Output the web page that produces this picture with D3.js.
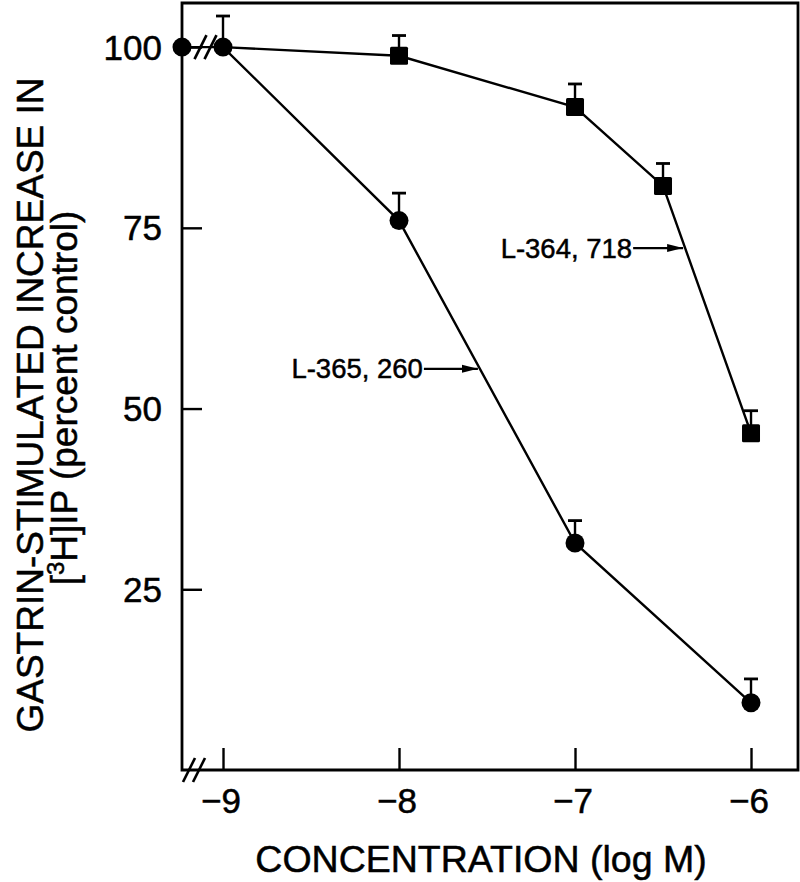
<!DOCTYPE html>
<html>
<head>
<meta charset="utf-8">
<script src="https://cdn.jsdelivr.net/npm/d3@7"></script>
<style>
  html, body { margin: 0; padding: 0; background: #fff; }
  svg { display: block; }
  text { font-family: "Liberation Sans", Arial, Helvetica, sans-serif; fill: #000; stroke: #000; stroke-width: 0.5px; }
</style>
</head>
<body>
<svg id="chart" width="800" height="882"></svg>
<script>
// ---------------- data ----------------
const xTicks = [-9, -8, -7, -6];
const xTickLabels = ["\u22129", "\u22128", "\u22127", "\u22126"];
const yTicks = [25, 50, 75, 100];
const yTickLabels = ["25", "50", "75", "100"];

// "control" point drawn on the broken axis, then log M concentrations
const circleX = ["control", -9, -8, -7, -6];
const circleY = [100, 100, 76.0, 31.4, 9.3];
const circleErr = [0, 4.3, 3.8, 3.1, 3.3];

const squareX = [-9, -8, -7, -6.5, -6];
const squareY = [100, 98.8, 91.7, 80.8, 46.6];
const squareErr = [0, 2.8, 3.2, 3.1, 3.1];
const squareErrShow = [false, true, true, true, true];

const seriesNames = ["L-365, 260", "L-364, 718"];
const annotationY = [55.5, 72.2];   // y value where each label's arrow meets its curve

const xTitle = "CONCENTRATION (log M)";
const yTitle1 = "GASTRIN-STIMULATED INCREASE IN";

// ---------------- layout ----------------
const svg = d3.select("#chart");
const mLeft = 182, mRight = 798, mTop = 3, mBottom = 770;
const xDomainMin = -9.233, xDomainMax = -5.733;
const x = d3.scaleLinear().domain([xDomainMin, xDomainMax]).range([mLeft, mRight]);
const y = d3.scaleLinear().domain([0, 106.1]).range([mBottom, mTop]);
const xPos = v => v === "control" ? x(xDomainMin) : x(v);

const g = svg.append("g");

// frame: left axis, bottom axis, top, right
g.append("path")
  .attr("d", `M${mLeft},${mBottom} L${mLeft},${mTop} L${mRight},${mTop} L${mRight},${mBottom} Z`)
  .attr("fill", "none").attr("stroke", "#000").attr("stroke-width", 2.8);

// y axis (inward ticks)
const yAxis = d3.axisRight(y).tickValues(yTicks).tickSize(20).tickFormat("");
const ya = g.append("g").attr("transform", `translate(${mLeft},0)`).call(yAxis);
ya.select(".domain").remove();
ya.selectAll(".tick line").attr("stroke-width", 2.4);
g.selectAll(".ylab").data(yTicks).enter().append("text")
  .attr("class", "ylab")
  .attr("x", 162).attr("y", d => y(d))
  .attr("text-anchor", "end").attr("dominant-baseline", "central")
  .style("font-size", "35px")
  .text((d, i) => yTickLabels[i]);

// x axis (inward ticks)
const xAxis = d3.axisTop(x).tickValues(xTicks).tickSize(22).tickFormat("");
const xa = g.append("g").attr("transform", `translate(0,${mBottom})`).call(xAxis);
xa.select(".domain").remove();
xa.selectAll(".tick line").attr("stroke-width", 2.4);
g.selectAll(".xlab").data(xTicks).enter().append("text")
  .attr("class", "xlab")
  .attr("x", d => x(d) - 2).attr("y", 813)
  .attr("text-anchor", "middle")
  .style("font-size", "35px")
  .text((d, i) => xTickLabels[i]);

// axis titles
g.append("text").attr("x", 481).attr("y", 872).attr("text-anchor", "middle")
  .style("font-size", "37.5px").text(xTitle);

const yt = g.append("text")
  .attr("transform", "translate(43,405) rotate(-90)")
  .attr("text-anchor", "middle").style("font-size", "37px");
yt.text(yTitle1);

const yt2 = g.append("text")
  .attr("transform", "translate(77,398) rotate(-90)")
  .attr("text-anchor", "middle").style("font-size", "37px");
yt2.append("tspan").text("[");
yt2.append("tspan").attr("dy", -13).style("font-size", "24px").text("3");
yt2.append("tspan").attr("dy", 13).text("H]IP (percent control)");

// ---------------- series ----------------
const line = d3.line().x(d => xPos(d[0])).y(d => y(d[1]));
const circPts = circleX.map((v, i) => [v, circleY[i], circleErr[i]]);
const sqPts = squareX.map((v, i) => [v, squareY[i], squareErr[i], squareErrShow[i]]);

g.append("path").datum(circPts).attr("d", line)
  .attr("fill", "none").attr("stroke", "#000").attr("stroke-width", 2.4);
g.append("path").datum(sqPts).attr("d", line)
  .attr("fill", "none").attr("stroke", "#000").attr("stroke-width", 2.4);

// error bars (upward only, with caps)
function errBars(pts, filter) {
  const sel = g.selectAll(null).data(pts.filter(filter)).enter().append("g");
  sel.append("line")
    .attr("x1", d => xPos(d[0])).attr("x2", d => xPos(d[0]))
    .attr("y1", d => y(d[1])).attr("y2", d => y(d[1] + d[2]))
    .attr("stroke", "#000").attr("stroke-width", 2.4);
  sel.append("line")
    .attr("x1", d => xPos(d[0]) - 7).attr("x2", d => xPos(d[0]) + 7)
    .attr("y1", d => y(d[1] + d[2])).attr("y2", d => y(d[1] + d[2]))
    .attr("stroke", "#000").attr("stroke-width", 2.8);
}
errBars(circPts, d => d[2] > 0);
errBars(sqPts, d => d[3]);

// markers
g.selectAll(".circ").data(circPts).enter().append("circle")
  .attr("cx", d => xPos(d[0])).attr("cy", d => y(d[1])).attr("r", 9.5).attr("fill", "#000");
g.selectAll(".sq").data(sqPts.filter(d => d[0] !== -9)).enter().append("rect")
  .attr("x", d => xPos(d[0]) - 9).attr("y", d => y(d[1]) - 9)
  .attr("width", 18).attr("height", 18).attr("rx", 1.5).attr("fill", "#000");

// ---------------- axis breaks ----------------
function breakMarks(cx, cy) {
  [-5, 5].forEach(off => {
    g.append("line")
      .attr("x1", cx + off - 6).attr("y1", cy + 12)
      .attr("x2", cx + off + 6).attr("y2", cy - 12)
      .attr("stroke", "#000").attr("stroke-width", 2.6);
  });
}
breakMarks((xPos("control") + x(-9)) / 2 + 3, y(100));
breakMarks(mLeft + 12, mBottom);

// ---------------- annotations ----------------
function pointOnCurve(pts, yv) {
  for (let i = 0; i < pts.length - 1; i++) {
    const a = pts[i], b = pts[i + 1];
    if ((a[1] - yv) * (b[1] - yv) <= 0 && a[1] !== b[1]) {
      const t = (yv - a[1]) / (b[1] - a[1]);
      return [xPos(a[0]) + t * (xPos(b[0]) - xPos(a[0])), y(yv)];
    }
  }
  return null;
}
const defs = svg.append("defs");
defs.append("marker").attr("id", "ah").attr("viewBox", "0 0 16 10")
  .attr("refX", 16).attr("refY", 5).attr("markerWidth", 16).attr("markerHeight", 10)
  .attr("markerUnits", "userSpaceOnUse").attr("orient", "auto")
  .append("path").attr("d", "M0,1 L16,5 L0,9 Z").attr("fill", "#000");

[circPts, sqPts].forEach((pts, i) => {
  const tip = pointOnCurve(pts, annotationY[i]);
  const arrowLen = i === 0 ? 56 : 52;
  const x0 = tip[0] - arrowLen;
  g.append("line").attr("x1", x0).attr("y1", tip[1]).attr("x2", tip[0] - 2).attr("y2", tip[1])
    .attr("stroke", "#000").attr("stroke-width", 2.2).attr("marker-end", "url(#ah)");
  g.append("text").attr("x", x0 - 1).attr("y", tip[1])
    .attr("text-anchor", "end").attr("dominant-baseline", "central")
    .style("font-size", "27.5px").text(seriesNames[i]);
});
</script>
</body>
</html>
